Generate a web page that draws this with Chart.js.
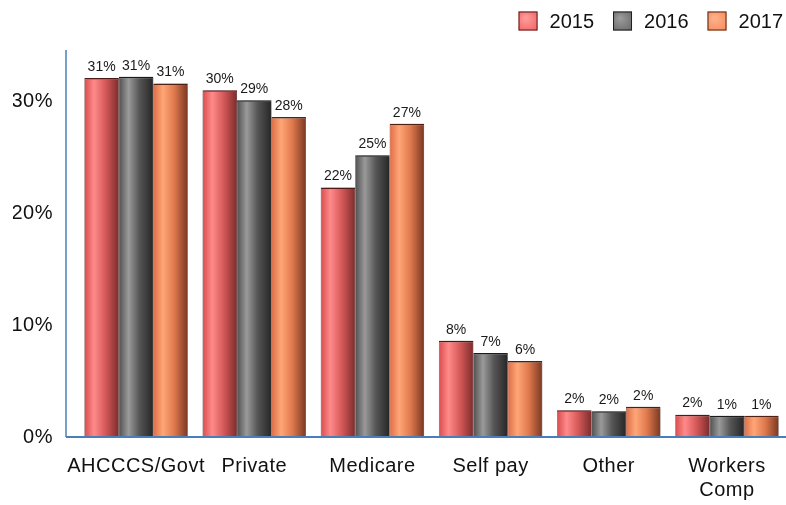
<!DOCTYPE html>
<html>
<head>
<meta charset="utf-8">
<script src="https://cdn.jsdelivr.net/npm/chart.js@4.4.0/dist/chart.umd.min.js"></script>
<style>
  html, body { margin: 0; padding: 0; background: #fff; }
  #wrap { width: 786px; height: 505px; }
</style>
</head>
<body>
<div id="wrap"><canvas id="chart" width="786" height="505"></canvas></div>
<script>
// payer mix by year (percent of patients)
const categories = ['AHCCCS/Govt', 'Private', 'Medicare', 'Self pay', 'Other', ['Workers', 'Comp']];
const years = ['2015', '2016', '2017'];
const values2015 = [32.1, 31.0, 22.3, 8.6, 2.4, 2.0];
const values2016 = [32.2, 30.1, 25.2, 7.5, 2.3, 1.9];
const values2017 = [31.6, 28.6, 28.0, 6.8, 2.7, 1.9];
const labels2015 = ['31%', '30%', '22%', '8%', '2%', '2%'];
const labels2016 = ['31%', '29%', '25%', '7%', '2%', '1%'];
const labels2017 = ['31%', '28%', '27%', '6%', '2%', '1%'];
const yTicks = [0, 10, 20, 30];

const FONT = 'Liberation Sans, Arial, sans-serif';

// cylinder shading: [left edge, highlight, mid, right edge]
const shades = [
    ['#d94c4c', '#ff8a8a', '#d85a5a', '#7c2c2c'],
    ['#505050', '#9a9a9a', '#555555', '#262626'],
    ['#dd6e48', '#ffa676', '#e07a4e', '#7a3822']
];
const flat = ['#f06666', '#6a6a6a', '#f58c60'];
const light = ['#ff9a9a', '#9a9a9a', '#ffb088'];
const edge = ['#5a1c1c', '#1e1e1e', '#5a2614'];

function barFill(di) {
    return function(ctx) {
        const chart = ctx.chart;
        const xs = chart.scales.x;
        if (!xs || !chart.chartArea || ctx.dataIndex === undefined) return flat[di];
        const bw = xs.width / categories.length * 0.875 / 3;
        const center = xs.getPixelForValue(ctx.dataIndex);
        const left = center + (di - 1.5) * bw;
        const g = chart.ctx.createLinearGradient(left, 0, left + bw, 0);
        const s = shades[di];
        g.addColorStop(0, s[0]);
        g.addColorStop(0.28, s[1]);
        g.addColorStop(0.6, s[2]);
        g.addColorStop(1, s[3]);
        return g;
    };
}

// the reference axis text is set a touch wider than plain Arial
const spacing = {
    id: 'spacing',
    beforeLayout(chart) { chart.ctx.letterSpacing = '0.5px'; },
    beforeDraw(chart) { chart.ctx.letterSpacing = '0.5px'; }
};

const valueLabels = {
    id: 'valueLabels',
    afterDatasetsDraw(chart) {
        const ctx = chart.ctx;
        const texts = [labels2015, labels2016, labels2017];
        ctx.save();
        ctx.letterSpacing = '0px';
        ctx.font = '14px ' + FONT;
        ctx.fillStyle = '#1a1a1a';
        ctx.textAlign = 'center';
        ctx.textBaseline = 'bottom';
        chart.data.datasets.forEach((ds, di) => {
            chart.getDatasetMeta(di).data.forEach((bar, i) => {
                ctx.fillText(texts[di][i], bar.x, bar.y - 4);
            });
        });
        ctx.restore();
    }
};

const shadow = {
    id: 'shadow',
    beforeDatasetsDraw(chart) {
        const ctx = chart.ctx;
        ctx.save();
        ctx.shadowColor = 'rgba(0,0,0,0.35)';
        ctx.shadowBlur = 5;
        ctx.shadowOffsetX = 2;
        ctx.shadowOffsetY = 0;
    },
    afterDatasetsDraw(chart) {
        chart.ctx.restore();
    }
};

// blue axis lines; the y axis line sits a little left of the first bar group
const axisLines = {
    id: 'axisLines',
    afterDatasetsDraw(chart) {
        const ctx = chart.ctx;
        const a = chart.chartArea;
        const ys = chart.scales.y;
        const x0 = a.left - 11;
        const y0 = ys.getPixelForValue(0);
        ctx.save();
        ctx.strokeStyle = '#4a7ebb';
        ctx.lineWidth = 1.5;
        ctx.beginPath();
        ctx.moveTo(x0, y0);
        ctx.lineTo(x0, a.top);
        ctx.stroke();
        ctx.lineWidth = 2;
        ctx.beginPath();
        ctx.moveTo(x0, y0);
        ctx.lineTo(a.right, y0);
        ctx.stroke();
        ctx.restore();
    }
};

// legend in the top right corner, laid out right to left
const legendBox = {
    id: 'legendBox',
    afterDraw(chart) {
        const ctx = chart.ctx;
        ctx.save();
        ctx.letterSpacing = '0px';
        ctx.font = '20px ' + FONT;
        ctx.textBaseline = 'middle';
        ctx.fillStyle = '#111';
        let x = 783;
        const cy = 21;
        for (let i = years.length - 1; i >= 0; i--) {
            const w = ctx.measureText(years[i]).width;
            x -= w;
            ctx.fillStyle = '#111';
            ctx.fillText(years[i], x, cy + 1);
            x -= 12 + 19;
            const g = ctx.createRadialGradient(x + 7, cy - 3, 1, x + 9, cy, 13);
            g.addColorStop(0, light[i]);
            g.addColorStop(1, flat[i]);
            ctx.fillStyle = g;
            ctx.fillRect(x, cy - 9.5, 19, 19);
            ctx.strokeStyle = edge[i];
            ctx.lineWidth = 1;
            ctx.strokeRect(x + 0.5, cy - 9, 18, 18);
            x -= 19;
        }
        ctx.restore();
    }
};

const seriesValues = [values2015, values2016, values2017];

new Chart(document.getElementById('chart'), {
    type: 'bar',
    data: {
        labels: categories,
        datasets: years.map((y, di) => ({
            label: y,
            data: seriesValues[di],
            backgroundColor: barFill(di),
            borderColor: edge[di],
            borderWidth: {top: 1.5, left: 0.5, right: 0.5, bottom: 0},
            borderSkipped: 'bottom',
            categoryPercentage: 0.875,
            barPercentage: 1
        }))
    },
    options: {
        responsive: false,
        animation: false,
        devicePixelRatio: 1,
        layout: {padding: {left: 13, right: 0, top: 50, bottom: 0}},
        plugins: {
            legend: {display: false},
            tooltip: {enabled: false}
        },
        scales: {
            x: {
                grid: {display: false, drawTicks: false},
                border: {display: false},
                afterFit(scale) {
                    scale.paddingLeft = 0;
                    scale.paddingRight = 0;
                    scale.height = 68;
                },
                ticks: {
                    font: {family: FONT, size: 20},
                    color: '#111',
                    padding: 17,
                    maxRotation: 0,
                    autoSkip: false
                }
            },
            y: {
                min: 0,
                max: 34.6,
                grid: {display: false, drawTicks: false},
                border: {display: false},
                afterFit(scale) {
                    scale.width = 64;
                },
                afterBuildTicks(scale) {
                    scale.ticks = yTicks.map(v => ({value: v}));
                },
                ticks: {
                    font: {family: FONT, size: 20},
                    color: '#111',
                    padding: 24,
                    callback: v => v + '%'
                }
            }
        }
    },
    plugins: [spacing, shadow, valueLabels, axisLines, legendBox]
});
</script>
</body>
</html>
